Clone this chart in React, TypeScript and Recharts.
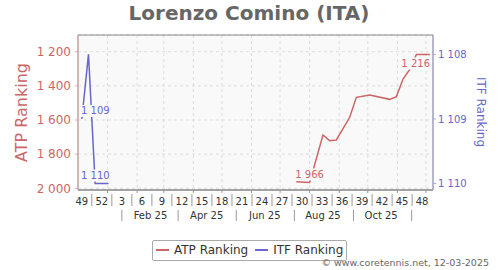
import React from 'react';
import { LineChart, Line, XAxis, YAxis, CartesianGrid, ReferenceArea, Legend } from 'recharts';

// x values are days counted from Thu 5 Dec 2024 (position of the "49" week label)
const atpDays = [225, 239, 253, 260, 267, 281, 288, 302, 323, 330, 337, 344, 351, 365];
const atpRanks = [1962, 1966, 1688, 1721, 1717, 1584, 1467, 1453, 1479, 1463, 1360, 1303, 1216, 1216];
const atpLabelDays = [239, 351];

const itfDays = [0, 7, 14, 21, 28];
const itfRanks = [1109, 1108, 1110, 1110, 1110];
const itfLabelDays = [0, 14];

const weekLabels = ['49', '52', '3', '6', '9', '12', '15', '18', '21', '24', '27', '30', '33', '36', '39', '42', '45', '48'];
const weekTickDays = [0, 21, 42, 63, 84, 105, 126, 147, 168, 189, 210, 231, 252, 273, 294, 315, 336, 357];
const weekSepDays = [10.5, 31.5, 52.5, 73.5, 94.5, 115.5, 136.5, 157.5, 178.5, 199.5, 220.5, 241.5, 262.5, 283.5, 304.5, 325.5, 346.5];

const monthStartDays = [27, 58, 86, 117, 147, 178, 208, 239, 270, 300, 331, 361];
const monthLabels = ['Feb 25', 'Apr 25', 'Jun 25', 'Aug 25', 'Oct 25'];
const monthLabelDays = [72, 131, 192, 253, 314];
const monthSepDays = [42, 101, 162, 223, 285, 346];

const atpTicks = [1200, 1400, 1600, 1800, 2000];
const itfTicks = [1108, 1109, 1110];

const xDomain: [number, number] = [-4, 368.4];
const atpDomain: [number, number] = [1102, 2010];
const itfDomain: [number, number] = [1107.7, 1110.1];

const atpRows = atpDays.map((day, i) => ({ day, rank: atpRanks[i] }));
const itfRows = itfDays.map((day, i) => ({ day, rank: itfRanks[i] }));

const ATP = '#cc6666';
const ITF = '#6666cc';
const PLOT_BG = '#f9f9f9';
const FONT = '"DejaVu Sans", sans-serif';

const W = 500;
const H = 270;
const MARGIN = { top: 35, right: 0, bottom: 40, left: 0 };
const LEFT_AXIS_W = 74;
const LEFT_GAP = 4;
const RIGHT_GAP = 5;
const RIGHT_AXIS_W = 62;
const PLOT_LEFT = MARGIN.left + LEFT_AXIS_W + LEFT_GAP;
const PLOT_RIGHT = W - MARGIN.right - RIGHT_AXIS_W - RIGHT_GAP;
const PLOT_TOP = MARGIN.top;

const fmt = (n: number) => String(Math.round(n)).replace(/\B(?=(\d{3})+(?!\d))/g, ' ');
const textW = (s: string, fs: number) =>
  s.split('').reduce((acc, c) => acc + (c === ' ' ? 0.318 : 0.636) * fs, 0);

function makeDataLabel(days: number[], labelDays: number[], color: string) {
  return (props: any) => {
    const vb = props.viewBox || {};
    const x = props.x ?? vb.x;
    const y = props.y ?? vb.y;
    const index = props.index;
    if (x == null || y == null || index == null || !labelDays.includes(days[index])) return <g />;
    const text = fmt(Number(props.value));
    const half = textW(text, 10) / 2 + 2;
    let cx = x;
    if (cx - half < PLOT_LEFT + 1) cx = PLOT_LEFT + 1 + half;
    if (cx + half > PLOT_RIGHT - 1) cx = PLOT_RIGHT - 1 - half;
    const above = y - 25 >= PLOT_TOP;
    const base = above ? y - 4.5 : y + 12.5;
    return (
      <g>
        <rect x={cx - half} y={base - 9.5} width={half * 2} height={12} fill={PLOT_BG} />
        <text x={cx} y={base} textAnchor="middle" fontSize={10} fill={color} fontFamily={FONT}>
          {text}
        </text>
      </g>
    );
  };
}

// one bottom axis draws: monthly tick marks, week labels with separators, two-month labels with separators
const AxisTick = (props: any) => {
  const { x, y, payload } = props;
  const v = payload?.value;
  const parts: React.ReactNode[] = [];
  if (monthStartDays.includes(v)) parts.push(<line key="m" x1={x} x2={x} y1={y} y2={y + 3} stroke="#999" />);
  const wi = weekTickDays.indexOf(v);
  if (wi >= 0)
    parts.push(
      <text key="w" x={x} y={y + 14.5} textAnchor="middle" fontSize={10} fill="#333" fontFamily={FONT}>
        {weekLabels[wi]}
      </text>
    );
  if (weekSepDays.includes(v)) parts.push(<line key="ws" x1={x} x2={x} y1={y + 4} y2={y + 16} stroke="#999" />);
  const mi = monthLabelDays.indexOf(v);
  if (mi >= 0)
    parts.push(
      <text key="ml" x={x} y={y + 29} textAnchor="middle" fontSize={10} fill="#333" fontFamily={FONT}>
        {monthLabels[mi]}
      </text>
    );
  if (monthSepDays.includes(v)) parts.push(<line key="ms" x1={x} x2={x} y1={y + 20} y2={y + 31} stroke="#999" />);
  return <g>{parts}</g>;
};

const allXTicks = Array.from(
  new Set([...monthStartDays, ...weekTickDays, ...weekSepDays, ...monthLabelDays, ...monthSepDays])
).sort((a, b) => a - b);

const LegendBox = (props: any) => {
  const items = props.payload || [];
  return (
    <div
      style={{
        display: 'inline-flex',
        alignItems: 'center',
        border: '1px solid #aaa',
        borderRadius: 2,
        background: '#fff',
        height: 19,
        padding: '0 3px',
        fontSize: 12,
        color: '#333',
        fontFamily: FONT,
        whiteSpace: 'nowrap',
      }}
    >
      {items.map((it: any, i: number) => (
        <span key={i} style={{ display: 'inline-flex', alignItems: 'center', marginLeft: i ? 7 : 0 }}>
          <span style={{ width: 13, height: 2, background: it.color, display: 'inline-block', marginRight: 5 }} />
          <span>{it.value}</span>
        </span>
      ))}
    </div>
  );
};

export default function App() {
  return (
    <div style={{ position: 'absolute', left: 0, top: 0, width: W, height: H, fontFamily: FONT, background: '#fff' }}>
      <LineChart width={W} height={H} margin={MARGIN} style={{ fontFamily: FONT }}>
        <XAxis xAxisId="sp" type="number" domain={[0, 1]} height={5} tick={false} tickLine={false} axisLine={false} />
        <XAxis
          xAxisId="main"
          dataKey="day"
          type="number"
          domain={xDomain}
          allowDataOverflow
          ticks={allXTicks}
          interval={0}
          tick={(p: any) => <AxisTick {...p} />}
          tickSize={0}
          tickMargin={0}
          height={35}
          axisLine={{ stroke: '#888' }}
          tickLine={false}
        />
        <YAxis yAxisId="lsp" orientation="left" type="number" domain={[0, 1]} width={LEFT_GAP} tick={false} tickLine={false} axisLine={false} />
        <YAxis
          yAxisId="atp"
          orientation="left"
          type="number"
          width={LEFT_AXIS_W}
          domain={atpDomain}
          reversed
          allowDataOverflow
          ticks={atpTicks}
          interval={0}
          tickFormatter={fmt}
          tick={{ fontSize: 12, fill: ATP, fontFamily: FONT }}
          tickSize={3}
          tickMargin={4}
          axisLine={{ stroke: '#e0aaaa' }}
          tickLine={{ stroke: '#e0aaaa' }}
        />
        <YAxis yAxisId="rsp" orientation="right" type="number" domain={[0, 1]} width={RIGHT_GAP} tick={false} tickLine={false} axisLine={false} />
        <YAxis
          yAxisId="itf"
          orientation="right"
          type="number"
          width={RIGHT_AXIS_W}
          domain={itfDomain}
          reversed
          allowDataOverflow
          ticks={itfTicks}
          interval={0}
          tickFormatter={fmt}
          tick={{ fontSize: 10, fill: ITF, fontFamily: FONT }}
          tickSize={3}
          tickMargin={2}
          axisLine={{ stroke: '#aaaae0' }}
          tickLine={{ stroke: '#aaaae0' }}
        />
        <CartesianGrid
          xAxisId="main"
          yAxisId="atp"
          stroke="#dddddd"
          strokeDasharray="3 3"
          fill={PLOT_BG}
          verticalValues={monthStartDays}
        />
        <ReferenceArea
          xAxisId="main"
          yAxisId="atp"
          x1={xDomain[0]}
          x2={xDomain[1]}
          y1={atpDomain[0]}
          y2={atpDomain[1]}
          fill="none"
          stroke="#888"
          strokeWidth={1}
          ifOverflow="visible"
        />
        <Line
          xAxisId="main"
          yAxisId="atp"
          data={atpRows}
          dataKey="rank"
          name="ATP Ranking"
          type="linear"
          stroke={ATP}
          strokeWidth={1.5}
          dot={false}
          activeDot={false}
          isAnimationActive={false}
          label={makeDataLabel(atpDays, atpLabelDays, ATP)}
        />
        <Line
          xAxisId="main"
          yAxisId="itf"
          data={itfRows}
          dataKey="rank"
          name="ITF Ranking"
          type="linear"
          stroke={ITF}
          strokeWidth={1.5}
          dot={false}
          activeDot={false}
          isAnimationActive={false}
          label={makeDataLabel(itfDays, itfLabelDays, ITF)}
        />
        <Legend
          layout="horizontal"
          verticalAlign="middle"
          align="center"
          wrapperStyle={{ left: 152, top: 236, width: 200, height: 21 }}
          content={(p: any) => <LegendBox {...p} />}
        />
      </LineChart>
      <svg
        width={W}
        height={H}
        style={{ position: 'absolute', left: 0, top: 0, pointerEvents: 'none' }}
        fontFamily={FONT}
      >
        <text x={249} y={20} textAnchor="middle" fontSize={20} fontWeight="bold" fill="#666">
          Lorenzo Comino (ITA)
        </text>
        <text x={26.5} y={112.5} textAnchor="middle" fontSize={16} fill={ATP} transform="rotate(-90 26.5 112.5)">
          ATP Ranking
        </text>
        <text x={477} y={112} textAnchor="middle" fontSize={12} fill={ITF} transform="rotate(90 477 112)">
          ITF Ranking
        </text>
        <text x={489} y={266} textAnchor="end" fontSize={9.5} fill="#666">
          © www.coretennis.net, 12-03-2025
        </text>
      </svg>
    </div>
  );
}
